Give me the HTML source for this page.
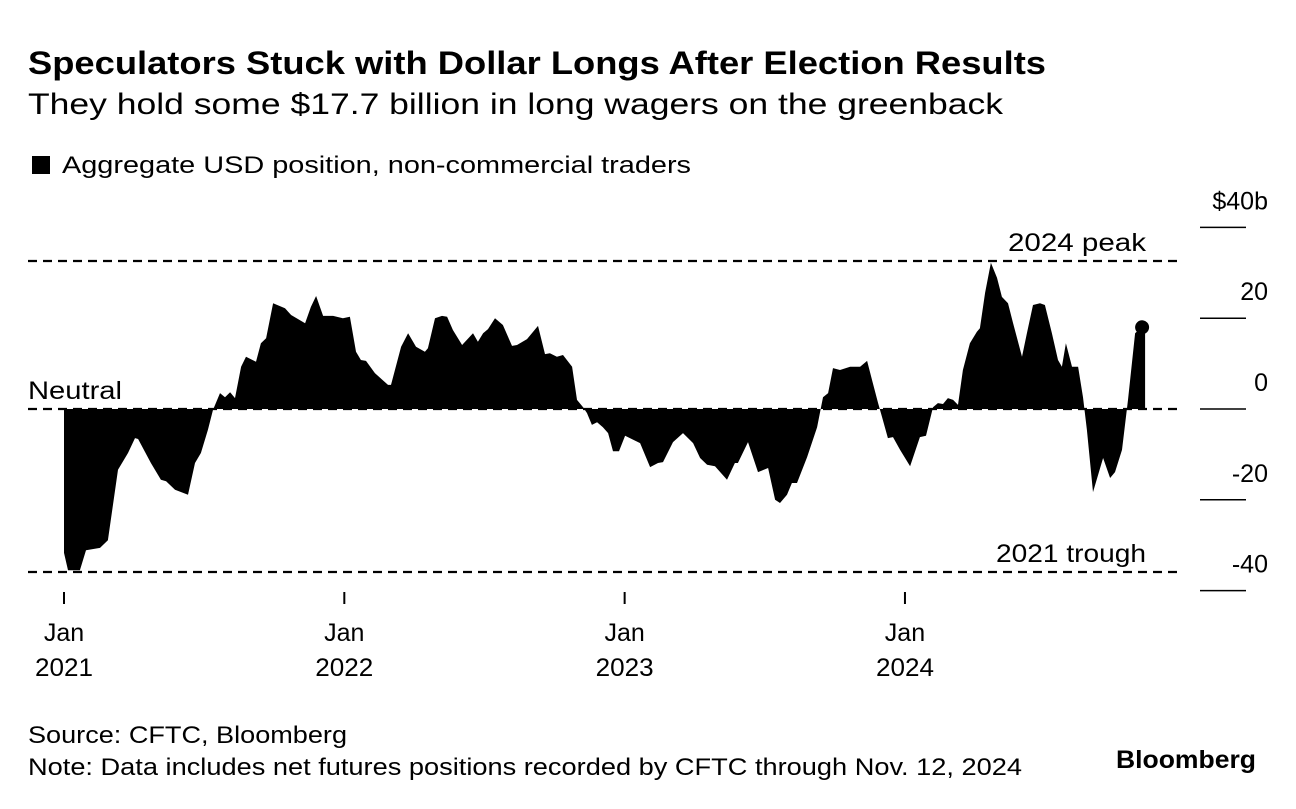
<!DOCTYPE html>
<html><head><meta charset="utf-8"><style>
body{margin:0;background:#fff;width:1296px;height:804px;overflow:hidden;font-family:"Liberation Sans",Arial,sans-serif;color:#000}
</style></head><body>
<svg width="1296" height="804" xmlns="http://www.w3.org/2000/svg" font-family="Liberation Sans, Arial, sans-serif">
<text x="28" y="74" font-size="32" font-weight="bold" textLength="1018" lengthAdjust="spacingAndGlyphs">Speculators Stuck with Dollar Longs After Election Results</text>
<text x="28" y="114" font-size="30" textLength="975" lengthAdjust="spacingAndGlyphs">They hold some $17.7 billion in long wagers on the greenback</text>
<rect x="32" y="156" width="18" height="18" fill="#000"/>
<text x="62" y="173" font-size="24" textLength="629" lengthAdjust="spacingAndGlyphs">Aggregate USD position, non-commercial traders</text>
<g id="plot"></g>
<text x="28" y="743" font-size="24" textLength="319" lengthAdjust="spacingAndGlyphs">Source: CFTC, Bloomberg</text>
<text x="28" y="775" font-size="24" textLength="994" lengthAdjust="spacingAndGlyphs">Note: Data includes net futures positions recorded by CFTC through Nov. 12, 2024</text>
<text x="1116" y="768" font-size="25" font-weight="bold" textLength="140" lengthAdjust="spacingAndGlyphs">Bloomberg</text>
</svg>
<script>
const months=[0,0,0.17,0.68,0.94,1.54,1.88,2.31,2.74,3.04,3.17,3.72,4.15,4.37,4.75,5.31,5.61,5.86,6.16,6.38,6.68,6.89,7.11,7.32,7.58,7.79,8.22,8.43,8.65,8.95,9.46,9.72,10.32,10.57,10.79,11.09,11.52,11.94,12.24,12.5,12.71,12.93,13.31,13.87,14.0,14.43,14.73,15.07,15.45,15.58,15.88,16.18,16.4,16.65,17.04,17.51,17.72,17.94,18.15,18.45,18.79,19.18,19.39,19.82,20.29,20.59,20.8,21.1,21.36,21.75,21.96,22.22,22.39,22.6,22.82,23.07,23.29,23.5,23.76,24.02,24.66,25.09,25.43,25.64,26.07,26.5,26.93,27.23,27.53,27.87,28.38,28.72,28.85,29.28,29.71,30.14,30.44,30.65,30.95,31.16,31.38,31.81,32.24,32.49,32.71,32.92,33.22,33.65,34.08,34.38,34.59,34.85,35.02,35.27,35.49,35.79,36.22,36.64,36.9,37.2,37.41,37.63,37.84,38.06,38.27,38.48,38.78,39.08,39.21,39.43,39.68,39.94,40.15,40.41,40.63,41.01,41.22,41.48,41.78,41.99,42.29,42.55,42.72,42.89,43.15,43.41,43.62,43.79,44.05,44.48,44.78,44.99,45.29,45.55,45.85,46.15,46.28];
const values=[0,-31.7,-35.5,-35.5,-31.1,-30.6,-28.9,-13.4,-9.7,-6.4,-6.6,-11.9,-15.6,-15.9,-17.8,-18.9,-11.9,-9.7,-4.6,-0.2,3.5,2.6,3.7,2.4,9.3,11.5,10.4,14.5,15.6,23.3,22.2,20.7,18.9,22.5,24.9,20.5,20.5,20.0,20.3,12.6,10.8,10.6,7.9,5.3,5.3,13.7,16.7,13.7,12.6,13.4,20.0,20.5,20.3,17.4,14.1,16.7,14.8,16.7,17.6,20.0,18.5,13.9,14.1,15.4,18.3,12.1,12.3,11.5,11.9,9.3,2.0,0.4,-0.9,-3.5,-2.9,-4.0,-5.3,-9.3,-9.3,-5.9,-7.5,-12.8,-11.9,-11.7,-7.3,-5.3,-7.5,-10.8,-12.3,-12.6,-15.6,-11.9,-11.9,-7.3,-13.9,-13.0,-20.0,-20.7,-18.9,-16.3,-16.3,-10.6,-4.0,2.6,3.5,9.0,8.6,9.3,9.3,10.6,6.4,1.3,-1.8,-6.4,-6.2,-9.0,-12.6,-6.2,-5.9,0.4,1.3,1.1,2.4,2.0,0.9,8.6,14.5,17.0,17.8,25.6,32.2,28.9,24.7,23.3,18.9,11.5,16.7,22.9,23.3,22.9,16.7,10.8,9.3,14.5,9.3,9.3,2.6,-4.6,-18.3,-10.8,-15.2,-13.9,-9.0,2.0,16.7,18.1,18.0];
const yTicks=[40,20,0,-20,-40];
const yTickLabels=["$40b","20","0","-20","-40"];
const xTickMonths=[0,12,24,36];
const xTickLabels=[["Jan","2021"],["Jan","2022"],["Jan","2023"],["Jan","2024"]];
const peakValue=32.6, troughValue=-35.9;

const NS="http://www.w3.org/2000/svg";
const plot=document.getElementById('plot');
const xs=m=>64+m*23.36;
const ys=v=>409-v*4.54;
function mk(tag,attrs){const e=document.createElementNS(NS,tag);for(const k in attrs)e.setAttribute(k,attrs[k]);plot.appendChild(e);return e;}

let d="M"+xs(months[0])+","+ys(0);
for(let i=0;i<months.length;i++)d+=" L"+xs(months[i]).toFixed(1)+","+ys(values[i]).toFixed(1);
d+=" L"+xs(months[months.length-1]).toFixed(1)+","+ys(0)+" Z";
const area=mk('path',{d:d,fill:'#000'});


const dot=mk('circle',{cx:xs(months[months.length-1])-3,cy:ys(values[values.length-1]),r:7,fill:'#000'});



const refs=[[0,"zero-line"],[peakValue,"peak-line"],[troughValue,"trough-line"]];
refs.forEach(r=>{const l=mk('line',{x1:28,x2:1180,y1:ys(r[0]),y2:ys(r[0]),stroke:'#000','stroke-width':2.2,'stroke-dasharray':'9,6'});

});

function txt(x,y,s,size,anchor,name,len){const t=mk('text',{x:x,y:y,'font-size':size,'text-anchor':anchor});t.textContent=s;
if(len){t.setAttribute('textLength',len);t.setAttribute('lengthAdjust','spacingAndGlyphs');}

return t;}
txt(28,ys(0)-10,"Neutral",25,"start","neutral-label",94);
txt(1146,ys(peakValue)-10,"2024 peak",25,"end","peak-label",138);
txt(1146,ys(troughValue)-10,"2021 trough",25,"end","trough-label",150);

yTicks.forEach((v,i)=>{const l=mk('line',{x1:1200,x2:1246,y1:ys(v),y2:ys(v),stroke:'#000','stroke-width':1.5});


txt(1268,ys(v)-18,yTickLabels[i],25,"end","y-tick-label");});

xTickMonths.forEach((m,i)=>{const l=mk('line',{x1:xs(m),x2:xs(m),y1:592,y2:604,stroke:'#000','stroke-width':2});


txt(xs(m),641,xTickLabels[i][0],25,"middle","x-tick-month");
txt(xs(m),676,xTickLabels[i][1],25,"middle","x-tick-year",58);});
</script>
</body></html>
